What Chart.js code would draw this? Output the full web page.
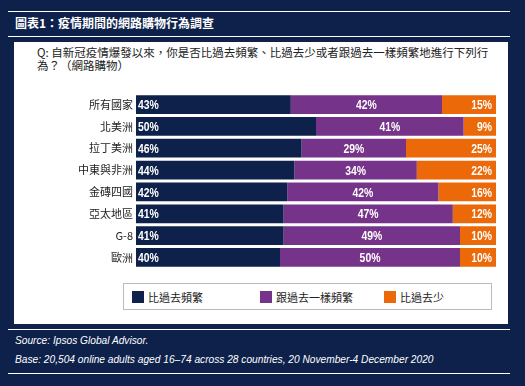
<!DOCTYPE html>
<html>
<head>
<meta charset="utf-8">
<script src="https://cdn.jsdelivr.net/npm/chart.js@4.4.0/dist/chart.umd.min.js"></script>
<style>
  html, body { margin: 0; padding: 0; }
  body {
    width: 525px;
    height: 386px;
    background: #0e214b;
    position: relative;
    overflow: hidden;
    font-family: "Noto Sans CJK TC", "Noto Sans", sans-serif;
  }
  .rule { position: absolute; left: 8px; width: 502px; height: 1px; background: #fff; }
  #title {
    position: absolute; left: 15px; top: 14px;
    color: #fff; font-weight: bold; font-size: 12px; line-height: 18px;
  }
  #panel {
    position: absolute; left: 14px; top: 42px; width: 494px; height: 282px;
    background: #fff;
  }
  #question {
    position: absolute; left: 23px; top: 4px;
    color: #222; font-size: 11.5px; line-height: 13px;
  }
  #chartBox { position: absolute; left: 0; top: 42px; width: 494px; height: 194px; }
  #legend {
    position: absolute; left: 109px; top: 241px; width: 367px; height: 25px;
    border: 1px solid #bbb;
  }
  .item { position: absolute; top: 0; height: 25px; display: flex; align-items: center;
    font-size: 11px; color: #222; }
  .swatch { width: 12px; height: 12px; margin-right: 4px; }
  .foot {
    position: absolute; left: 15px; color: #fff; font-style: italic;
    font-family: "Liberation Sans", Arial, sans-serif; font-size: 11.5px;
    transform: scaleX(0.885); transform-origin: left center; white-space: nowrap;
  }
</style>
</head>
<body>
<div class="rule" style="top:11px"></div>
<div id="title">圖表1：疫情期間的網路購物行為調查</div>
<div class="rule" style="top:36px"></div>

<div id="panel">
  <div id="question">Q: 自新冠疫情爆發以來，你是否比過去頻繁、比過去少或者跟過去一樣頻繁地進行下列行<br>為？（網路購物）</div>
  <div id="chartBox"><canvas id="chart"></canvas></div>
  <div id="legend"></div>
</div>

<div class="rule" style="top:329px"></div>
<div class="foot" style="top:334px">Source: Ipsos Global Advisor.</div>
<div class="foot" style="top:353px">Base: 20,504 online adults aged 16–74 across 28 countries, 20 November-4 December 2020</div>
<div class="rule" style="top:373px"></div>

<script>
// categories (top to bottom)
const regions = ["所有國家", "北美洲", "拉丁美洲", "中東與非洲", "金磚四國", "亞太地區", "G-8", "歐洲"];

// series names
const seriesNames = ["比過去頻繁", "跟過去一樣頻繁", "比過去少"];

// values in percent
const moreOften = [43, 50, 46, 44, 42, 41, 41, 40];
const sameAsBefore = [42, 41, 29, 34, 42, 47, 49, 50];
const lessOften = [15, 9, 25, 22, 16, 12, 10, 10];

const colors = ["#0e214b", "#76338a", "#eb6909"];

// legend, laid out in fixed columns like the original
const legendLeft = [8, 136, 260];
const legend = document.getElementById("legend");
seriesNames.forEach((name, i) => {
  const item = document.createElement("div");
  item.className = "item";
  item.style.left = legendLeft[i] + "px";
  item.innerHTML = '<div class="swatch" style="background:' + colors[i] + '"></div>' + name;
  legend.appendChild(item);
});

// writes the % value on each segment
const valueLabels = {
  id: "valueLabels",
  afterDatasetsDraw(chart) {
    const ctx = chart.ctx;
    ctx.save();
    ctx.fillStyle = "#fff";
    ctx.font = "bold 13px 'Liberation Sans', Arial, sans-serif";
    ctx.textBaseline = "middle";
    chart.data.datasets.forEach((ds, di) => {
      const meta = chart.getDatasetMeta(di);
      meta.data.forEach((bar, i) => {
        const text = ds.data[i] + "%";
        const w = ctx.measureText(text).width * 0.8;
        let x;
        if (di === 0) x = bar.base + 2;
        else if (di === 1) x = (bar.base + bar.x) / 2 - w / 2;
        else x = bar.x - 4 - w;
        ctx.save();
        ctx.translate(x, bar.y + 1);
        ctx.scale(0.8, 1);
        ctx.textAlign = "left";
        ctx.fillText(text, 0, 0);
        ctx.restore();
      });
    });
    ctx.restore();
  },
};

const seriesValues = [moreOften, sameAsBefore, lessOften];

new Chart("chart", {
  type: "bar",
  data: {
    labels: regions,
    datasets: seriesNames.map((name, i) => ({
      label: name,
      data: seriesValues[i],
      backgroundColor: colors[i],
      borderWidth: 0,
      barPercentage: 0.86,
      categoryPercentage: 1,
    })),
  },
  options: {
    indexAxis: "y",
    animation: false,
    responsive: true,
    maintainAspectRatio: false,
    layout: { padding: { top: 4, bottom: 4, right: 12, left: 0 } },
    plugins: {
      legend: { display: false },
      tooltip: { enabled: false },
    },
    scales: {
      x: { stacked: true, min: 0, max: 100, display: false },
      y: {
        stacked: true,
        grid: { display: false, drawTicks: false },
        border: { display: false },
        ticks: {
          color: "#222",
          padding: 3,
          font: { family: "'Noto Sans CJK TC'", size: 11 },
        },
        afterFit(scale) {
          scale.width = 122;
        },
      },
    },
  },
  plugins: [valueLabels],
});
</script>
</body>
</html>
